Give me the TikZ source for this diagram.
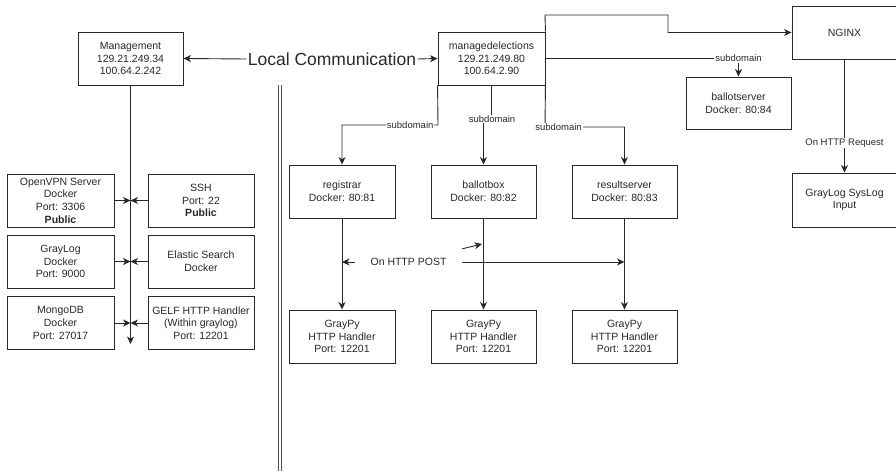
\documentclass[tikz,border=0pt]{standalone}
\usepackage{fontspec}
\setmainfont{Liberation Sans}
\usetikzlibrary{arrows.meta}
\definecolor{ink}{RGB}{40,40,40}
\tikzset{
  box/.style={draw=ink, line width=0.9pt, minimum width=106pt, minimum height=53pt, align=center, inner sep=1pt, text=ink, font=\fontsize{10.5}{12.7}\selectfont},
  con/.style={draw=ink, line width=0.9pt},
  arr/.style={con, -{Stealth[length=7.5pt,width=7pt,inset=2.2pt]}},
  lbl/.style={fill=white, inner sep=1pt, text=ink, font=\fontsize{9.5}{11}\selectfont},
}
\begin{document}
\begin{tikzpicture}[x=1pt,y=-1pt]
\useasboundingbox (0,0) rectangle (896,471);
% nodes
\node[box, minimum width=105pt] (mg) at (130.5,58.5) {Management\\129.21.249.34\\100.64.2.242};
\node[box, minimum width=107pt] (me) at (491.5,58.5) {managedelections\\129.21.249.80\\100.64.2.90};
\node[box, minimum width=105pt] (ng) at (844.5,32.5) {NGINX};
\node[box, minimum width=105pt, minimum height=52pt] (bs) at (738.5,103) {ballotserver\\Docker: 80:84};
\node[box] (reg) at (342,191.5) {registrar\\Docker: 80:81};
\node[box, minimum width=105pt] (bb) at (483.5,191.5) {ballotbox\\Docker: 80:82};
\node[box, minimum width=105pt] (rs) at (624.5,191.5) {resultserver\\Docker: 80:83};
\node[box] (gp1) at (342,336.5) {GrayPy\\HTTP Handler\\Port: 12201};
\node[box, minimum width=105pt] (gp2) at (483.5,336.5) {GrayPy\\HTTP Handler\\Port: 12201};
\node[box, minimum width=105pt] (gp3) at (624.5,336.5) {GrayPy\\HTTP Handler\\Port: 12201};
\node[box, minimum width=105pt, minimum height=54pt] (sys) at (844.5,200) {GrayLog SysLog\\Input};
\node[box, minimum width=107pt] (ovpn) at (60.5,200.5) {OpenVPN Server\\Docker\\Port: 3306\\\textbf{Public}};
\node[box] (ssh) at (201,200.5) {SSH\\Port: 22\\\textbf{Public}};
\node[box, minimum width=107pt] (gl) at (60.5,261.5) {GrayLog\\Docker\\Port: 9000};
\node[box] (es) at (201,261.5) {Elastic Search\\Docker};
\node[box, minimum width=107pt] (mdb) at (60.5,323) {MongoDB\\Docker\\Port: 27017};
\node[box] (gelf) at (201,323) {GELF HTTP Handler\\(Within graylog)\\Port: 12201};
\node[text=ink, font=\fontsize{17.5}{20}\selectfont, inner sep=1pt] (lc) at (332,59) {Local Communication};
\node[text=ink, font=\fontsize{10.5}{12.7}\selectfont, minimum width=107pt, minimum height=26pt, inner sep=0pt] (post) at (408.5,262) {On HTTP POST};
% coordinates
\coordinate (m1) at (130.5,200.5);
\coordinate (m2) at (130.5,261.5);
\coordinate (m3) at (130.5,323);
\coordinate (mend) at (130.5,344);
\coordinate (p1) at (342,262);
\coordinate (p2) at (624.5,262);
\coordinate (p3) at (482,244);
% connectors
\draw[arr] (lc.west) -- (mg.east);
\draw[arr] (lc.east) -- (me.west);
\draw[arr] (me.north east) -- (545,15) -- (668,15) -- (668,32.5) -- (ng.west);
\draw[arr] (me.east) -| node[lbl, pos=0.5] {subdomain} (bs.north);
\draw[arr] (me.south west) -- (438,125) -- node[lbl, pos=0.29] {subdomain} (342,125) -- (reg.north);
\draw[arr] (me.south) -- (491.5,119) -- (483.5,119) -- (bb.north);
\node[lbl] at (492,119) {subdomain};
\draw[arr] (me.south east) -- (545,127) -- node[lbl, pos=0.17] {subdomain} (624.5,127) -- (rs.north);
\draw[arr] (reg.south) -- (gp1.north);
\draw[arr] (bb.south) -- (gp2.north);
\draw[arr] (rs.south) -- (gp3.north);
\draw[arr] (post.west) -- (p1);
\draw[arr] (post.east) -- (p2);
\draw[arr] (post.north east) -- (p3);
\draw[arr] (ng.south) -- node[lbl, pos=0.737] {On HTTP Request} (sys.north);
\draw[arr] (mg.south) -- (mend);
\draw[arr] (ovpn.east) -- (m1);
\draw[arr] (ssh.west) -- (m1);
\draw[arr] (gl.east) -- (m2);
\draw[arr] (es.west) -- (m2);
\draw[arr] (mdb.east) -- (m3);
\draw[arr] (gelf.west) -- (m3);
% separator
\draw[draw=ink!80, line width=0.8pt, double=white, double distance=2.2pt] (280,85) -- (280,471);
\end{tikzpicture}
\end{document}
